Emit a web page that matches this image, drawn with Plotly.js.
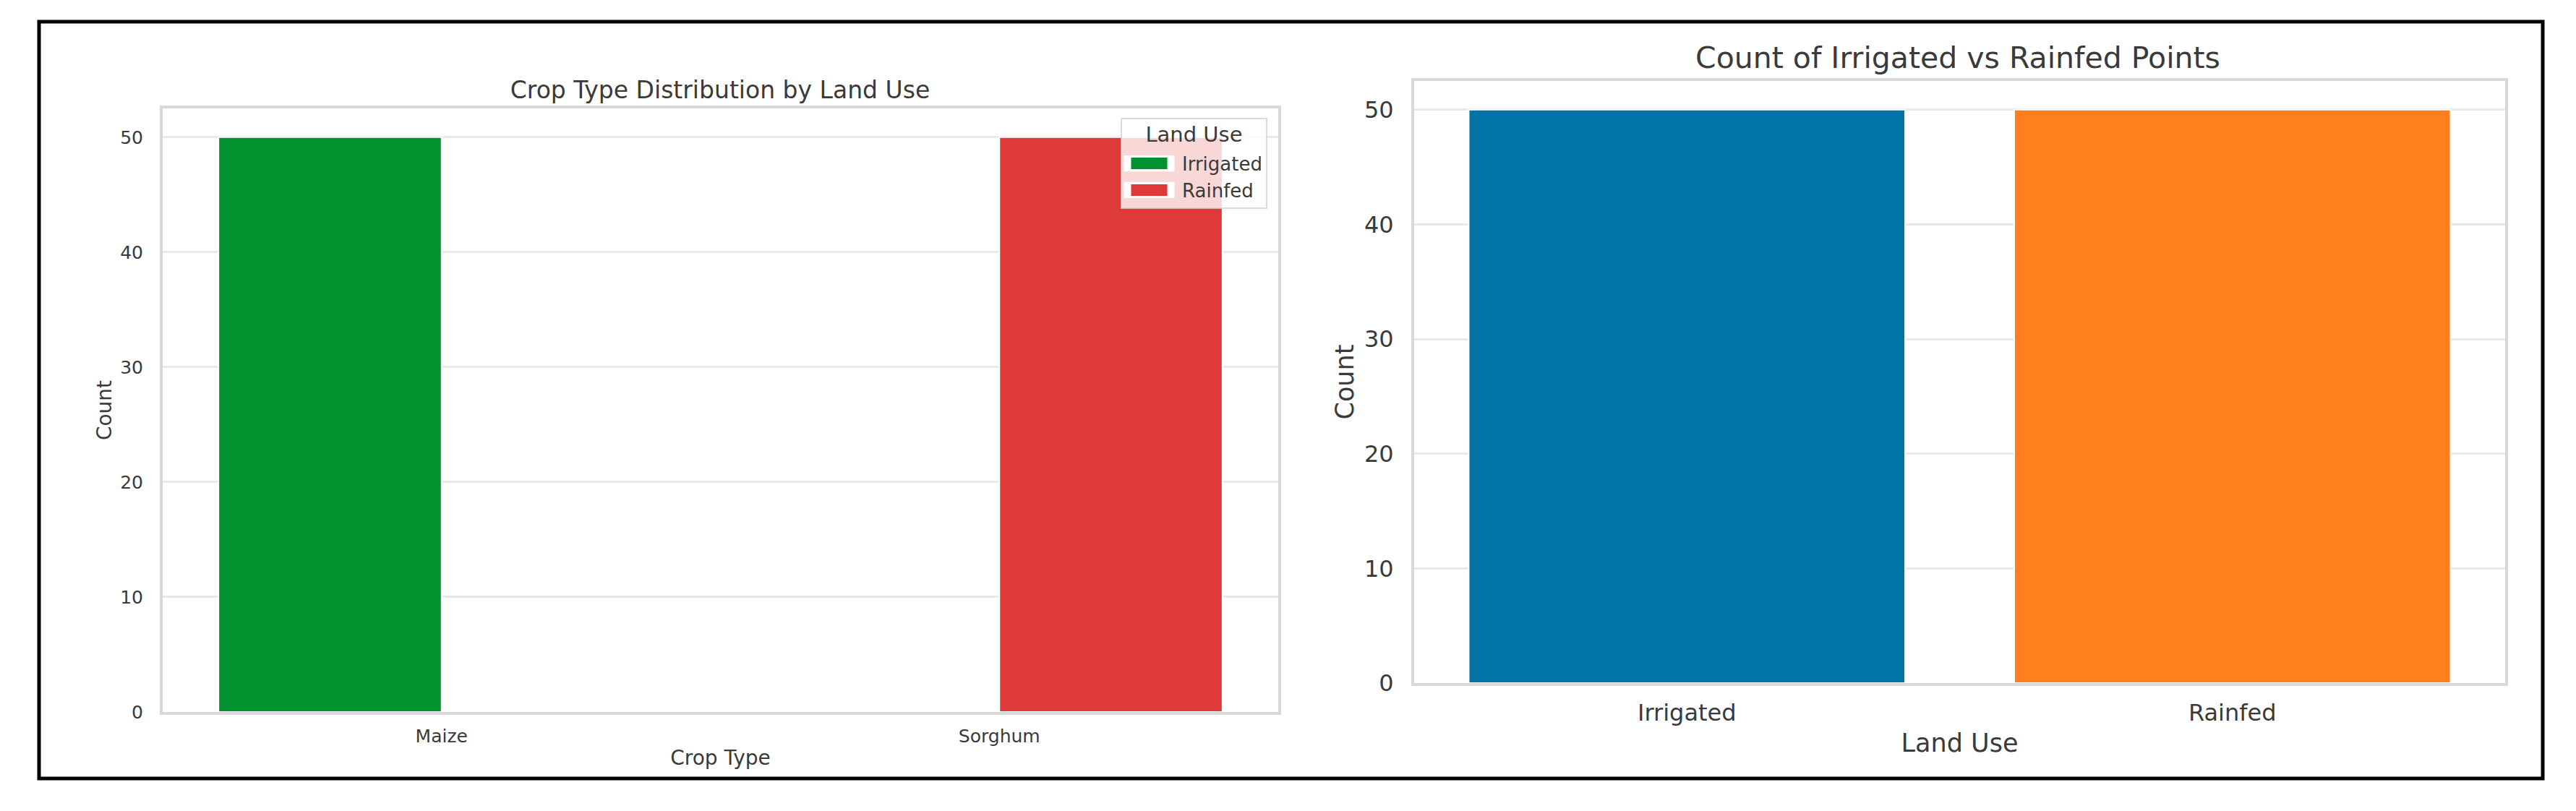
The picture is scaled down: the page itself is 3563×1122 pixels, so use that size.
<!DOCTYPE html>
<html>
<head>
<meta charset="utf-8">
<script src="https://cdn.plot.ly/plotly-3.0.1.min.js"></script>
<style>
html,body{margin:0;padding:0;background:#fff;overflow:hidden}
#chart{width:3563px;height:1122px}
.legend .legendpoints path{transform:translate(37.5px,0) scale(5,1.6)}
.legend .legendtitletext{transform:translateY(-7px)}
</style>
</head>
<body>
<div id="chart"></div>
<script>
const W = 3563, H = 1122;
const cropTypes = ['Maize', 'Sorghum'];
const irrigatedCounts = [50, 0];
const rainfedCounts = [0, 50];
const landUses = ['Irrigated', 'Rainfed'];
const landUseCounts = [50, 50];
const yTicks = [0, 10, 20, 30, 40, 50];
const textColor = '#3a3a3a';
const fontFamily = '"DejaVu Sans", sans-serif';

const px = v => v / W, py = v => 1 - v / H;

function axis(size, titleText, titleSize, standoff, domainPx, isX, anchor, extra) {
  return Object.assign({
    domain: isX ? [px(domainPx[0]), px(domainPx[1])] : [py(domainPx[1]), py(domainPx[0])],
    anchor: anchor,
    automargin: false,
    showline: true, mirror: true, linecolor: '#d8d8d8', linewidth: 4,
    gridcolor: '#e9e9e9', gridwidth: 3,
    zeroline: false,
    ticks: '',
    tickfont: {family: fontFamily, size: size, color: textColor},
    title: {text: titleText, standoff: standoff, font: {family: fontFamily, size: titleSize, color: textColor}}
  }, extra);
}

const data = [
  {type: 'bar', name: 'Irrigated', x: cropTypes, y: irrigatedCounts, xaxis: 'x', yaxis: 'y',
   marker: {color: '#02922f', line: {color: '#ffffff', width: 2}}},
  {type: 'bar', name: 'Rainfed', x: cropTypes, y: rainfedCounts, xaxis: 'x', yaxis: 'y',
   marker: {color: '#df3a3a', line: {color: '#ffffff', width: 2}}},
  {type: 'bar', name: 'Count', x: landUses, y: landUseCounts, xaxis: 'x2', yaxis: 'y2', showlegend: false,
   marker: {color: ['#0173a6', '#ff7f1e'], line: {color: '#ffffff', width: 2}}}
];

const layout = {
  width: W, height: H,
  margin: {l: 0, r: 0, t: 0, b: 0, pad: 0},
  paper_bgcolor: '#ffffff', plot_bgcolor: '#ffffff',
  font: {family: fontFamily, color: textColor},
  barmode: 'group', bargap: 0.2, bargroupgap: 0,
  title: {text: 'Crop Type Distribution by Land Use', x: px(996), xref: 'paper', xanchor: 'center',
          y: py(124), yref: 'paper', yanchor: 'middle',
          font: {family: fontFamily, size: 33, color: textColor}},
  xaxis: axis(25, 'Crop Type', 28, 7, [225, 1768], true, 'y', {type: 'category', range: [-0.5, 1.5], showgrid: false, ticklabelstandoff: 8}),
  yaxis: axis(25, 'Count', 28, 4, [150, 985], false, 'x', {range: [0, 52.5], tickvals: yTicks, ticklabelstandoff: 18}),
  xaxis2: axis(32, 'Land Use', 35, 12, [1956, 3465], true, 'y2', {type: 'category', range: [-0.5, 1.5], showgrid: false, ticklabelstandoff: 10}),
  yaxis2: axis(32, 'Count', 35, 5, [112, 945], false, 'x2', {range: [0, 52.5], tickvals: yTicks, ticklabelstandoff: 18}),
  legend: {
    x: px(1550), y: py(163), xanchor: 'left', yanchor: 'top',
    bgcolor: 'rgba(255,255,255,0.8)', bordercolor: 'rgba(210,210,210,0.8)', borderwidth: 2,
    title: {text: 'Land Use', side: 'top center', font: {family: fontFamily, size: 29, color: textColor}},
    font: {family: fontFamily, size: 26, color: textColor},
    itemwidth: 73, itemsizing: 'trace', traceorder: 'normal'
  },
  annotations: [{
    text: 'Count of Irrigated vs Rainfed Points', xref: 'paper', yref: 'paper',
    x: px(2708), y: py(80), xanchor: 'center', yanchor: 'middle', showarrow: false,
    font: {family: fontFamily, size: 41, color: textColor}
  }],
  shapes: [{
    type: 'rect', xref: 'paper', yref: 'paper', layer: 'above',
    x0: px(54), x1: px(3517), y0: py(1077), y1: py(30),
    line: {color: '#000000', width: 5}, fillcolor: 'rgba(0,0,0,0)'
  }]
};

Plotly.newPlot('chart', data, layout, {displayModeBar: false, responsive: false});
</script>
</body>
</html>
